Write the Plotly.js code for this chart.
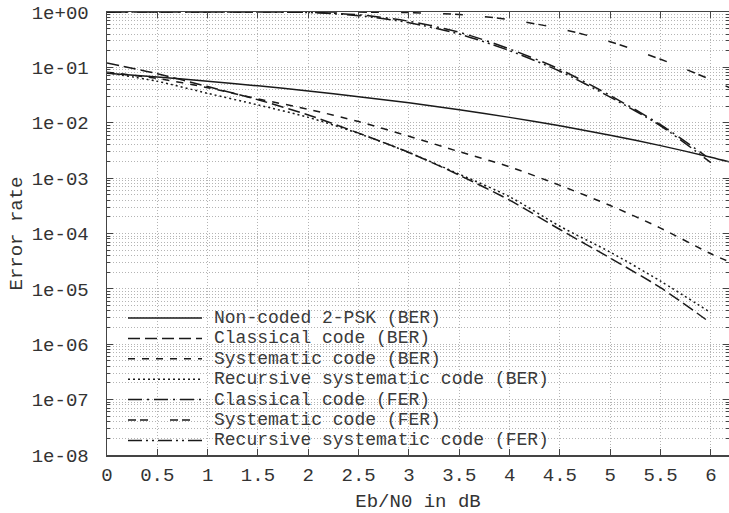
<!DOCTYPE html>
<html>
<head>
<meta charset="utf-8">
<script src="https://cdn.plot.ly/plotly-3.0.1.min.js"></script>
<style>html,body{margin:0;padding:0;background:#fff;}#chart{width:729px;height:513px;}</style>
</head>
<body>
<div id="chart"></div>
<script>
// ---- data ----
const ebn0 = [0, 0.5, 1, 1.5, 2, 2.5, 3, 3.5, 4, 4.5, 5, 5.5, 6, 6.2];
const ebn0Classical = [0, 0.5, 1, 1.5, 2, 2.5, 3, 3.5, 4, 4.5, 5, 5.5, 5.95];
const ebn0Recursive = [0, 0.5, 1, 1.5, 2, 2.5, 3, 3.5, 4, 4.5, 5, 5.5, 6];

const uncodedBER    = [0.0786, 0.0671, 0.0563, 0.0464, 0.0375, 0.0296, 0.0229, 0.0172, 0.0125, 0.00882, 0.00595, 0.00386, 0.00239, 0.00193];
const classicalBER  = [0.12, 0.077, 0.045, 0.026, 0.0138, 0.0065, 0.0029, 0.00113, 0.00040, 0.000118, 3.6e-5, 1.05e-5, 2.8e-6];
const systematicBER = [0.082, 0.063, 0.043, 0.027, 0.0175, 0.0105, 0.0057, 0.0030, 0.0016, 0.00074, 0.00032, 0.000125, 4.3e-5, 3.0e-5];
const recursiveBER  = [0.08, 0.056, 0.034, 0.021, 0.0125, 0.0064, 0.0029, 0.00118, 0.00046, 0.000135, 4.6e-5, 1.38e-5, 3.7e-6];
const classicalFER  = [1, 1, 1, 0.998, 0.985, 0.89, 0.68, 0.43, 0.215, 0.092, 0.031, 0.0092, 0.0025];
const systematicFER = [1, 1, 1, 1, 1, 0.995, 0.975, 0.9, 0.73, 0.5, 0.29, 0.14, 0.06, 0.042];
const recursiveFER  = [1, 1, 1, 0.997, 0.98, 0.86, 0.64, 0.40, 0.20, 0.085, 0.029, 0.0088, 0.0019];

const seriesNames = [
  "Non-coded 2-PSK (BER)",
  "Classical code (BER)",
  "Systematic code (BER)",
  "Recursive systematic code (BER)",
  "Classical code (FER)",
  "Systematic code (FER)",
  "Recursive systematic code (FER)"
];
const yTickVals = [1e-8, 1e-7, 1e-6, 1e-5, 1e-4, 1e-3, 1e-2, 1e-1, 1];
const yTickText = ["1e-08", "1e-07", "1e-06", "1e-05", "1e-04", "1e-03", "1e-02", "1e-01", "1e+00"];

// ---- styles ----
const FONT = "Liberation Mono, Cousine, DejaVu Sans Mono, monospace";
const lineColor = "#1a1a1a";
const dashes = ["solid", "12px,5px", "7px,7px", "2px,3px", "14px,5px,2px,5px", "8px,4px,8px,22px", "14px,4px,2px,4px,2px,4px"];
const xs = [ebn0, ebn0Classical, ebn0, ebn0Recursive, ebn0Classical, ebn0, ebn0Recursive];
const ys = [uncodedBER, classicalBER, systematicBER, recursiveBER, classicalFER, systematicFER, recursiveFER];

const traces = seriesNames.map((name, i) => ({
  type: "scatter", mode: "lines", name: name,
  x: xs[i], y: ys[i], showlegend: false,
  line: {color: lineColor, width: 1.5, dash: dashes[i], shape: "spline", smoothing: 0.8}
}));

const minorVals = [];
for (let e = -8; e < 0; e++) for (let m = 2; m <= 9; m++) minorVals.push(m * Math.pow(10, e));

// plot area geometry (px) for the in-plot key
const L = 107, R = 729, T = 12, B = 455;
const px2x = p => (p - L) / (R - L);
const py2y = p => (B - p) / (B - T);
const rowY0 = 318, rowDY = 20.4, keyFont = 18, charW = 10.8;

const shapes = [], annotations = [];
seriesNames.forEach((name, i) => {
  const cy = rowY0 + i * rowDY;
  shapes.push({type: "rect", layer: "between", xref: "paper", yref: "paper",
    x0: px2x(110), x1: px2x(214 + name.length * charW + 3),
    y0: py2y(cy + rowDY / 2), y1: py2y(cy - rowDY / 2),
    fillcolor: "#fff", line: {width: 0}});
  shapes.push({type: "line", layer: "above", xref: "paper", yref: "paper",
    x0: px2x(128), x1: px2x(202), y0: py2y(cy), y1: py2y(cy),
    line: {color: lineColor, width: 1.5, dash: dashes[i]}});
  annotations.push({xref: "paper", yref: "paper", x: px2x(213), y: py2y(cy),
    xanchor: "left", yanchor: "middle", showarrow: false, text: name,
    height: 18, borderpad: 0, valign: "middle",
    font: {family: FONT, size: keyFont, color: "#3a3a3a"}});
});

const gridCol = "#b4b4b4";
const layout = {
  width: 729, height: 513,
  margin: {l: L, r: 729 - R, t: T, b: 513 - B},
  paper_bgcolor: "#fff", plot_bgcolor: "#fff",
  showlegend: false,
  font: {family: FONT, size: 19, color: "#333"},
  xaxis: {
    range: [0, 6.18], dtick: 0.5, tick0: 0,
    ticks: "inside", ticklen: 6, tickwidth: 1, tickcolor: "#444",
    showline: true, linecolor: "#444", linewidth: 1.5, mirror: "ticks",
    showgrid: true, gridcolor: gridCol, gridwidth: 1, griddash: "1px,2px",
    zeroline: false, ticklabelstandoff: 2,
    tickfont: {family: FONT, size: 19, color: "#333"},
    title: {text: "Eb/N0 in dB", font: {family: FONT, size: 19, color: "#333"}, standoff: 12}
  },
  yaxis: {
    type: "log", range: [-8, 0],
    tickmode: "array", tickvals: yTickVals, ticktext: yTickText,
    ticks: "inside", ticklen: 6, tickwidth: 1, tickcolor: "#444",
    showline: true, linecolor: "#444", linewidth: 1.5, mirror: "ticks",
    showgrid: true, gridcolor: gridCol, gridwidth: 1, griddash: "1px,2px",
    zeroline: false, ticklabelstandoff: 13,
    tickfont: {family: FONT, size: 19, color: "#333"},
    minor: {tickmode: "array", tickvals: minorVals, ticks: "inside", ticklen: 3, tickcolor: "#444",
            showgrid: true, gridcolor: gridCol, gridwidth: 1, griddash: "1px,2px"},
    title: {text: "Error rate", font: {family: FONT, size: 19, color: "#333"}, standoff: 4}
  },
  shapes: shapes,
  annotations: annotations
};

Plotly.newPlot("chart", traces, layout, {displayModeBar: false, staticPlot: true});
</script>
</body>
</html>
